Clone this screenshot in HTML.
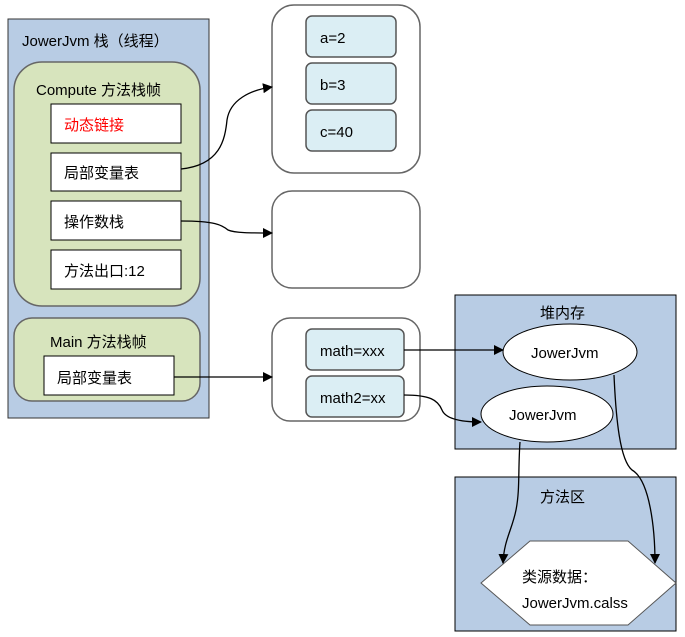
<!DOCTYPE html>
<html><head><meta charset="utf-8"><style>body{margin:0;background:#fff}svg{display:block}text{font-family:"Liberation Sans","Noto Sans CJK SC",sans-serif;font-size:15px;fill:#000}</style></head><body>
<svg width="685" height="637" viewBox="0 0 685 637" xmlns="http://www.w3.org/2000/svg">
<defs><marker id="a" markerWidth="10" markerHeight="10" refX="9" refY="5" orient="auto" markerUnits="userSpaceOnUse"><path d="M0,0 L10,5 L0,10z" fill="#000"/></marker></defs>
<rect x="8" y="19" width="201" height="399" fill="#b8cce4" stroke="#333"/>
<text x="22" y="46">JowerJvm  栈（线程）</text>
<rect x="14" y="62" width="186" height="244" rx="28" fill="#d7e4bd" stroke="#666" stroke-width="1.5"/>
<text x="36" y="95">Compute 方法栈帧</text>
<g fill="#fff" stroke="#000"><rect x="51" y="104" width="130" height="39"/><rect x="51" y="153" width="130" height="38"/><rect x="51" y="201" width="130" height="39"/><rect x="51" y="250" width="130" height="39"/></g>
<text x="64" y="130" style="fill:#f00">动态链接</text>
<text x="64" y="178">局部变量表</text>
<text x="64" y="227">操作数栈</text>
<text x="64" y="276">方法出口:12</text>
<rect x="14" y="318" width="186" height="83" rx="18" fill="#d7e4bd" stroke="#666" stroke-width="1.5"/>
<text x="50" y="347">Main 方法栈帧</text>
<rect x="44" y="356" width="130" height="39" fill="#fff" stroke="#000"/>
<text x="57" y="383">局部变量表</text>
<g fill="#fff" stroke="#666" stroke-width="1.5"><rect x="272" y="5" width="148" height="168" rx="22"/><rect x="272" y="191" width="148" height="97" rx="20"/><rect x="272" y="318" width="148" height="103" rx="18"/></g>
<g fill="#dbeef4" stroke="#555" stroke-width="1.5"><rect x="306" y="16" width="90" height="41" rx="6"/><rect x="306" y="63" width="90" height="41" rx="6"/><rect x="306" y="110" width="90" height="41" rx="6"/><rect x="306" y="329" width="98" height="41" rx="6"/><rect x="306" y="376" width="98" height="41" rx="6"/></g>
<text x="320" y="43">a=2</text><text x="320" y="90">b=3</text><text x="320" y="137">c=40</text>
<text x="320" y="356">math=xxx</text><text x="320" y="403">math2=xx</text>
<rect x="455" y="295" width="221" height="154" fill="#b8cce4" stroke="#000"/>
<text x="540" y="318">堆内存</text>
<rect x="455" y="477" width="221" height="154" fill="#b8cce4" stroke="#000"/>
<text x="540" y="502">方法区</text>
<ellipse cx="570" cy="352" rx="67" ry="28" fill="#fff" stroke="#000"/>
<text x="531" y="358">JowerJvm</text>
<ellipse cx="547" cy="414" rx="66" ry="28" fill="#fff" stroke="#000"/>
<text x="509" y="420">JowerJvm</text>
<polygon points="481,583 530,541 628,541 676,583 628,625 530,625" fill="#fff" stroke="#555"/>
<text x="522" y="582">类源数据：</text>
<text x="522" y="608">JowerJvm.calss</text>
<g fill="none" stroke="#000" stroke-width="1.3" marker-end="url(#a)">
<path d="M181,169 C220,165 225,140 227,120 C230,100 250,90 272,87"/>
<path d="M181,221 C215,221 222,225 228,230 C235,233 250,233 272,233"/>
<path d="M174,377 L272,377"/>
<path d="M404,350 L503,350"/>
<path d="M404,395 C430,395 438,400 442,410 C446,420 465,422 481,422"/>
<path d="M520,442 C518,470 520,490 516,510 C512,530 504,540 503,563"/>
<path d="M614,375 C616,420 620,460 632,470 C650,480 655,530 655,563"/>
</g>
</svg>
</body></html>
